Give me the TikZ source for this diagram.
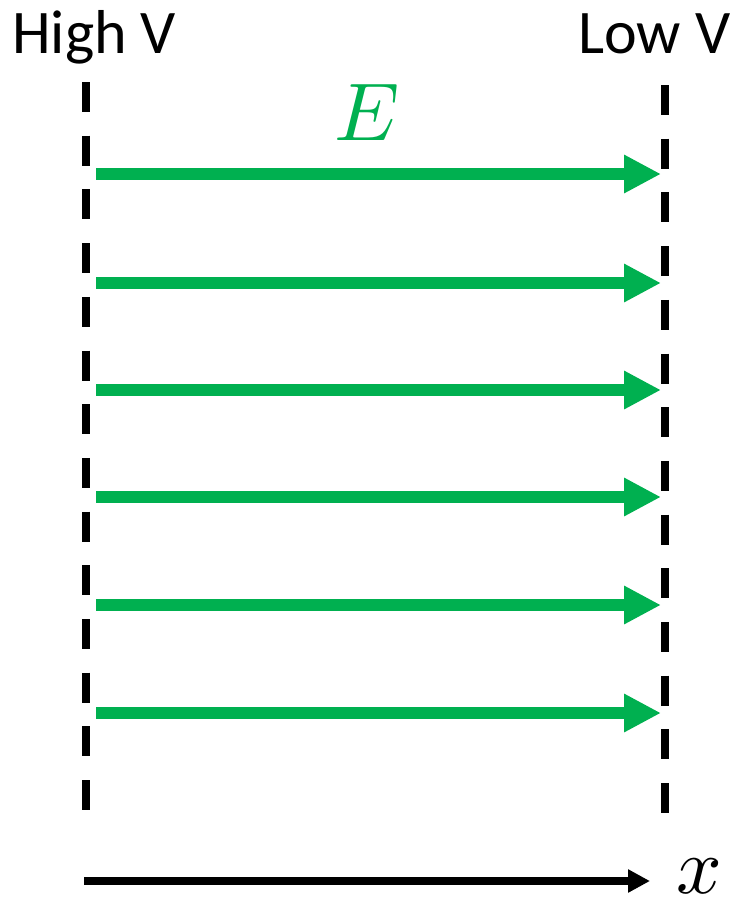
\documentclass[tikz,border=0pt]{standalone}
\usepackage{fontspec}
\usepackage{unicode-math}
\setmainfont{Carlito}
\setmathfont{Latin Modern Math}
\usetikzlibrary{arrows.meta}
\definecolor{efield}{HTML}{00B050}
\begin{document}
\begin{tikzpicture}[x=1pt,y=-1pt,
  plate/.style={line width=8pt,dash pattern=on 30pt off 23.7pt},
  fieldarrow/.style={draw=efield,line width=12pt,-{Triangle[length=37pt,width=36pt]}},
  axisarrow/.style={draw=black,line width=8pt,-{Triangle[length=22pt,width=22pt]}},
  lbl/.style={inner sep=0pt,font=\fontsize{62}{62}\selectfont}
  ]
\useasboundingbox (0,0) rectangle (732,905);
% labels
\node[lbl,anchor=base west] (high) at (12,53) {High V};
\node[lbl,anchor=base west] (low) at (578,53) {Low V};
\node[inner sep=0pt,text=efield,font=\fontsize{82}{82}\selectfont] (E) at (367,113) {$E$};
% plates
\coordinate (lt) at (86,82);
\coordinate (lb) at (86,811);
\coordinate (rt) at (665,85);
\coordinate (rb) at (665,814);
\draw[plate] (lt) -- (lb);
\draw[plate] (rt) -- (rb);
% field arrows
\foreach \i/\y in {1/174,2/283,3/390,4/497,5/605,6/713}{
  \coordinate (s\i) at (96,\y);
  \coordinate (t\i) at (661,\y);
  \draw[fieldarrow] (s\i) -- (t\i);
}
% axis
\coordinate (ax0) at (84,881);
\coordinate (ax1) at (650,881);
\draw[axisarrow] (ax0) -- (ax1);
\node[inner sep=0pt,font=\fontsize{80}{80}\selectfont] (xl) at (699,876) {$x$};
\end{tikzpicture}
\end{document}
